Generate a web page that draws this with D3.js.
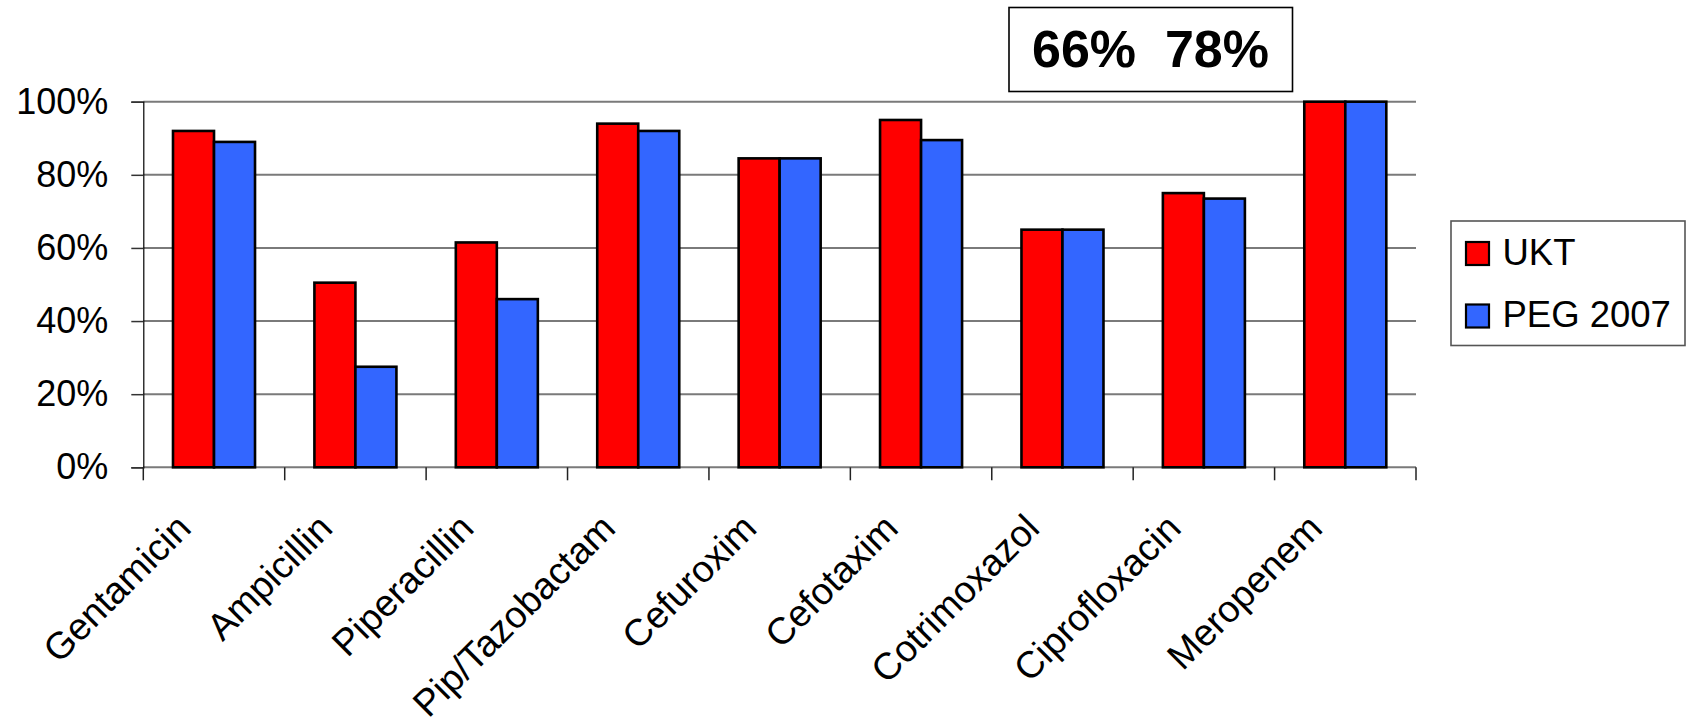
<!DOCTYPE html>
<html>
<head>
<meta charset="utf-8">
<script src="https://cdn.jsdelivr.net/npm/d3@7"></script>
<style>
  html, body { margin: 0; padding: 0; background: #fff; }
  svg { display: block; font-family: "Liberation Sans", Arial, sans-serif; }
</style>
</head>
<body>
<svg id="chart" width="1686" height="724"></svg>
<script>
// Susceptibility rates per antibiotic
const categories = ["Gentamicin", "Ampicillin", "Piperacillin", "Pip/Tazobactam", "Cefuroxim",
                    "Cefotaxim", "Cotrimoxazol", "Ciprofloxacin", "Meropenem"];
const seriesNames = ["UKT", "PEG 2007"];
const ukt = [92, 50.5, 61.5, 94, 84.5, 95, 65, 75, 100];
const peg2007 = [89, 27.5, 46, 92, 84.5, 89.5, 65, 73.5, 100];
const yTicks = [0, 20, 40, 60, 80, 100];
const boxText = "66%  78%";

const colors = { "UKT": "#FF0000", "PEG 2007": "#3366FF" };

const svg = d3.select("#chart");
const plot = { left: 143.3, right: 1416, top: 101.7, bottom: 467.3 };

const x = d3.scaleBand().domain(categories)
  .range([plot.left, plot.right]).paddingInner(0.42).paddingOuter(0.21);
const xSub = d3.scaleBand().domain(seriesNames).range([0, x.bandwidth()]);
const y = d3.scaleLinear().domain([0, 100]).range([plot.bottom, plot.top]);

// horizontal gridlines
svg.append("g").selectAll("line").data(yTicks).join("line")
  .attr("x1", plot.left).attr("x2", plot.right)
  .attr("y1", d => y(d)).attr("y2", d => y(d))
  .attr("stroke", "#7a7a7a").attr("stroke-width", 2);

// y axis
const yAxis = svg.append("g").attr("transform", `translate(${plot.left},0)`)
  .call(d3.axisLeft(y).tickValues(yTicks).tickFormat(d => d + "%").tickSize(12).tickPadding(23));
yAxis.select(".domain").attr("stroke", "#000").attr("stroke-width", 1.2);
yAxis.selectAll(".tick line").attr("stroke", "#333").attr("stroke-width", 1.5);
yAxis.selectAll(".tick text").attr("font-size", 36).attr("fill", "#000")
  .attr("font-family", "Liberation Sans, Arial, sans-serif");

// category separators below the x axis
const step = x.step();
const bounds = d3.range(categories.length + 1).map(i => plot.left + i * step);
svg.append("g").selectAll("line").data(bounds).join("line")
  .attr("x1", d => d).attr("x2", d => d)
  .attr("y1", plot.bottom).attr("y2", plot.bottom + 13)
  .attr("stroke", "#222").attr("stroke-width", 1.5);

// bars
const rows = categories.map((c, i) => ({ cat: c, vals: [
  { key: "UKT", v: ukt[i] }, { key: "PEG 2007", v: peg2007[i] }] }));
const groups = svg.append("g").selectAll("g").data(rows).join("g")
  .attr("transform", d => `translate(${x(d.cat)},0)`);
groups.selectAll("rect").data(d => d.vals).join("rect")
  .attr("x", d => xSub(d.key))
  .attr("width", xSub.bandwidth())
  .attr("y", d => y(d.v))
  .attr("height", d => y(0) - y(d.v))
  .attr("fill", d => colors[d.key])
  .attr("stroke", "#000").attr("stroke-width", 2.6);

// rotated category labels
svg.append("g").selectAll("text").data(categories).join("text")
  .attr("transform", d => `translate(${x(d) + x.bandwidth() / 2 - 21},${plot.bottom + 63}) rotate(-45)`)
  .attr("text-anchor", "end")
  .attr("font-size", 37.5).attr("fill", "#000")
  .text(d => d);

// highlight box
const box = svg.append("g");
box.append("rect").attr("x", 1009).attr("y", 7.5).attr("width", 283.5).attr("height", 84)
  .attr("fill", "#fff").attr("stroke", "#000").attr("stroke-width", 1.6);
box.append("text").attr("x", 1150.5).attr("y", 66.5).attr("text-anchor", "middle")
  .attr("font-size", 52).attr("font-weight", "bold").attr("fill", "#000")
  .style("white-space", "pre").attr("xml:space", "preserve")
  .text(boxText);

// legend
const legend = svg.append("g");
legend.append("rect").attr("x", 1451).attr("y", 221).attr("width", 234).attr("height", 124.5)
  .attr("fill", "#fff").attr("stroke", "#555").attr("stroke-width", 1.6);
const items = legend.selectAll("g.item").data(seriesNames).join("g").attr("class", "item")
  .attr("transform", (d, i) => `translate(1466,${242 + i * 62.5})`);
items.append("rect").attr("width", 23).attr("height", 23)
  .attr("fill", d => colors[d]).attr("stroke", "#000").attr("stroke-width", 2.2);
items.append("text").attr("x", 36.5).attr("y", 22.5)
  .attr("font-size", 36.5).attr("fill", "#000").text(d => d);
</script>
</body>
</html>
